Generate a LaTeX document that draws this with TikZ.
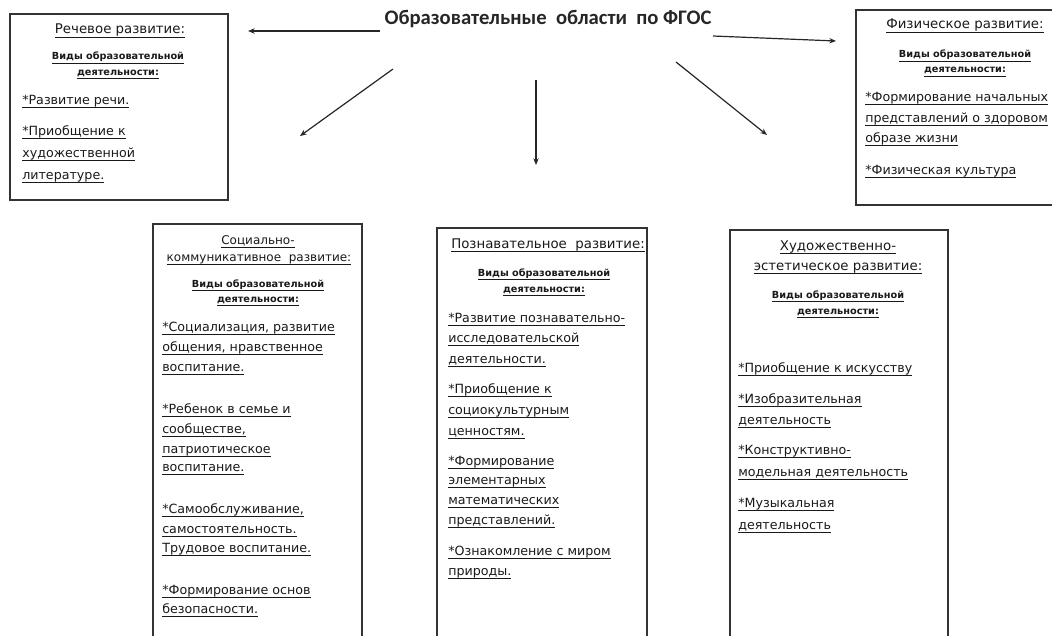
\documentclass[tikz,border=0pt]{standalone}
\usepackage{fontspec}
\setmainfont{DejaVu Sans}
\newfontfamily\titlefont{Carlito}
\usetikzlibrary{arrows.meta}

% underlined line of text
\newcommand{\lin}[1]{\setbox0\hbox{#1}\rlap{\rule[-2.6pt]{\wd0}{0.6pt}}\box0}

\tikzset{
  areabox/.style={draw=black!80, line width=1.1pt},
  item/.style={anchor=base west, inner sep=0pt, text=black!90,
    font=\fontsize{9.5}{11}\selectfont},
  head/.style={anchor=base, inner sep=0pt, text=black!90,
    font=\fontsize{10}{12}\selectfont},
  kind/.style={anchor=base, inner sep=0pt, text=black!90,
    font=\bfseries\fontsize{7.3}{8}\selectfont},
  link/.style={-{Stealth[length=5pt,width=4pt]}, line width=0.9pt, black!85}
}

\begin{document}
\begin{tikzpicture}[x=0.75pt,y=-0.75pt]
\useasboundingbox (0,0) rectangle (1052,635);
\clip (0,0) rectangle (1052,635);

%%%  title and arrows
\node[font=\titlefont\bfseries\fontsize{15.5}{17}\selectfont, text=black!85] (fgos) at (548,19)
  {Образовательные\ \ области\ \ по ФГОС};
\coordinate (l0) at (380,31);  \coordinate (l1) at (248,31);
\coordinate (r0) at (713,36);  \coordinate (r1) at (836,41);
\coordinate (dl0) at (393,69); \coordinate (dl1) at (300,136);
\coordinate (d0) at (536,80);  \coordinate (d1) at (536,165);
\coordinate (dr0) at (676,62); \coordinate (dr1) at (767,135);
\foreach \a in {l,r,dl,d,dr}{%
  \draw[link] (\a0) -- (\a1);}

%%%%%%%%% boxes %%%%%%%%
\draw[areabox] (10,14) rectangle (228,200);
\draw[areabox] (856,10) rectangle (1060,205);
\draw[areabox] (153,224) rectangle (362,645);
\draw[areabox] (437,228) rectangle (647,645);
\draw[areabox] (730,230) rectangle (948,645);

%%%%%%%%% speech %%%%%%%%
\node[head] (sp0) at (120,34) {\lin{Речевое развитие:}};
\node[kind] (spk1) at (118,60) {\lin{Виды образовательной}};
\node[kind] (spk2) at (118,75) {\lin{деятельности:}};
\foreach \y/\t [count=\i] in {104/{*Развитие речи.}, 135/{*Приобщение к},
  157/{художественной}, 179/{литературе.}}{%
  \node[item] (sp\i) at (22,\y) {\lin{\t}};}

%%%%%%%%% physical %%%%%%%%
\node[head] (ph0) at (965,29) {\lin{Физическое развитие:}};
\node[kind] (phk1) at (965,58) {\lin{Виды образовательной}};
\node[kind] (phk2) at (965,73) {\lin{деятельности:}};
\foreach \y/\t [count=\i] in {101/{*Формирование начальных},
  122/{представлений о здоровом}, 142/{образе жизни}, 174/{*Физическая культура}}{%
  \node[item] (ph\i) at (865,\y) {\lin{\t}};}

%%%%%%%%% social %%%%%%%%
\node[head, font=\fontsize{9}{11}\selectfont] (so0) at (258,244) {\lin{Социально-}};
\node[head, font=\fontsize{9}{11}\selectfont] (so00) at (259,261) {\lin{коммуникативное\ \ развитие:}};
\node[kind] (sok1) at (258,287) {\lin{Виды образовательной}};
\node[kind] (sok2) at (258,302) {\lin{деятельности:}};
\foreach \y/\t [count=\i] in {331/{*Социализация, развитие}, 351/{общения, нравственное},
  371/{воспитание.}, 413/{*Ребенок в семье и}, 433/{сообществе,},
  453/{патриотическое}, 471/{воспитание.}, 513/{*Самообслуживание,},
  533/{самостоятельность.}, 552/{Трудовое воспитание.},
  594/{*Формирование основ}, 613/{безопасности.}}{%
  \node[item] (so\i) at (162,\y) {\lin{\t}};}

%%%%%%%%% cognitive %%%%%%%%
\node[head] (co0) at (548,248) {\lin{Познавательное\ \ развитие:}};
\node[kind] (cok1) at (544,276) {\lin{Виды образовательной}};
\node[kind] (cok2) at (544,292) {\lin{деятельности:}};
\foreach \y/\t [count=\i] in {322/{*Развитие познавательно-}, 342/{исследовательской},
  363/{деятельности.}, 393/{*Приобщение к}, 414/{социокультурным},
  435/{ценностям.}, 465/{*Формирование}, 484/{элементарных},
  504/{математических}, 524/{представлений.},
  555/{*Ознакомление с миром}, 575/{природы.}}{%
  \node[item] (co\i) at (448,\y) {\lin{\t}};}

%%%%%%%%% art %%%%%%%%
\node[head] (ar0) at (838,250) {\lin{Художественно-}};
\node[head] (ar00) at (838,270) {\lin{эстетическое развитие:}};
\node[kind] (ark1) at (838,298) {\lin{Виды образовательной}};
\node[kind] (ark2) at (838,314) {\lin{деятельности:}};
\foreach \y/\t [count=\i] in {372/{*Приобщение к искусству}, 403/{*Изобразительная},
  424/{деятельность}, 454/{*Конструктивно-}, 476/{модельная деятельность},
  507/{*Музыкальная}, 529/{деятельность}}{%
  \node[item] (ar\i) at (738,\y) {\lin{\t}};}

\end{tikzpicture}
\end{document}
